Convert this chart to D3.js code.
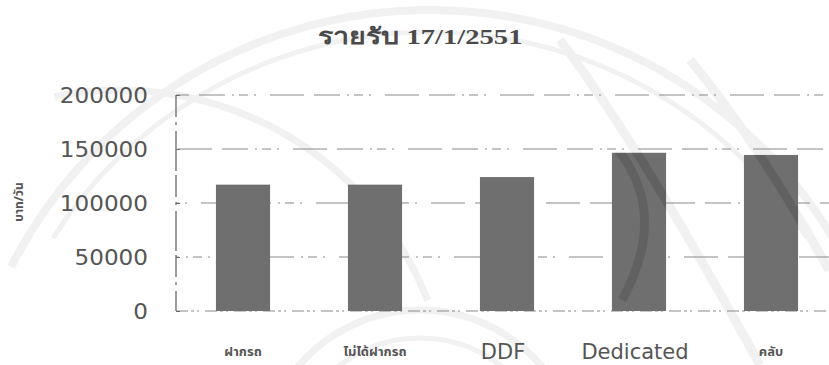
<!DOCTYPE html>
<html>
<head>
<meta charset="utf-8">
<script src="https://cdn.jsdelivr.net/npm/d3@7/dist/d3.min.js"></script>
<style>
  html, body { margin: 0; padding: 0; background: #fff; }
  svg { display: block; }
</style>
</head>
<body>
<svg id="chart" width="829" height="365"></svg>
<script>
// Daily income by service type
const categories = ["ฝากรถ", "ไม่ได้ฝากรถ", "DDF", "Dedicated", "คลับ"];
const income = [117000, 117000, 124000, 146500, 144500];
const yTicks = [0, 50000, 100000, 150000, 200000];
const chartTitle = "รายรับ 17/1/2551";
const yTitle = "บาท/วัน";

const svg = d3.select("#chart");
const W = 829, H = 365;

const x = d3.scaleBand()
  .domain(categories)
  .range([177, 837])
  .paddingInner(0.59)
  .paddingOuter(0.295);

const y = d3.scaleLinear()
  .domain([0, 200000])
  .range([311, 95]);

const ink = "#6f6f6f";
const isLatin = d => /[A-Za-z]/.test(d);

// Faint background seal pattern
const seal = svg.append("g").attr("fill", "none").attr("stroke", "#f1f1f1");
const rings = [
  { cx: 430, cy: 480, r: 470, a0: -1.1, a1: 1.1, w: 8 },
  { cx: 430, cy: 480, r: 448, a0: -1.0, a1: 1.0, w: 5 },
  { cx: 120, cy: 420, r: 330, a0: -0.2, a1: 1.2, w: 7 },
  { cx: 420, cy: 470, r: 160, a0: -1.4, a1: 1.4, w: 7 },
  { cx: 420, cy: 470, r: 132, a0: -1.3, a1: 1.3, w: 5 }
];
rings.forEach(d => {
  seal.append("path")
    .attr("d", d3.arc()({ innerRadius: d.r, outerRadius: d.r, startAngle: d.a0, endAngle: d.a1 }))
    .attr("transform", `translate(${d.cx},${d.cy})`)
    .attr("stroke-width", d.w);
});
const bandPaths = [
  "M560,40 C620,120 680,220 760,365",
  "M690,60 C740,120 790,200 829,270"
];
bandPaths.forEach(p => seal.append("path").attr("d", p).attr("stroke-width", 9));

// Gridlines (light, broken dash-dot)
const grid = svg.append("g")
  .attr("stroke", "#8a8a8a")
  .attr("stroke-width", 1.1);
yTicks.forEach((t, i) => {
  grid.append("line")
    .attr("x1", 176).attr("x2", W)
    .attr("y1", y(t)).attr("y2", y(t))
    .attr("stroke-dasharray", i === 0 ? "12,3,3,3,2,6" : "26,7,2,5,9,6,2,14,34,10")
    .attr("stroke-dashoffset", i * 23);
});

// Vertical axis line
svg.append("line")
  .attr("x1", 176).attr("x2", 176)
  .attr("y1", y(200000)).attr("y2", y(0))
  .attr("stroke", "#6a6a6a")
  .attr("stroke-width", 1.3)
  .attr("stroke-dasharray", "22,5,3,6,40,4");

// Y tick labels
const yAxis = d3.axisLeft(y).tickValues(yTicks).tickSize(4).tickFormat(d3.format("d"));
const gy = svg.append("g").attr("transform", "translate(180,0)").call(yAxis);
gy.select(".domain").remove();
gy.selectAll(".tick line").attr("stroke", "#6a6a6a").attr("x2", -4);
gy.selectAll(".tick text")
  .attr("x", 0)
  .attr("dy", "0.36em")
  .attr("fill", "#555")
  .attr("font-family", "DejaVu Sans, Verdana, sans-serif")
  .attr("font-size", 22)
  .attr("text-anchor", "end")
  .attr("transform", "translate(-32,0) scale(1.05,1)");

// Bars
const barRect = (sel) => sel
  .attr("x", (d, i) => x(categories[i]))
  .attr("width", x.bandwidth())
  .attr("y", d => y(d))
  .attr("height", d => y(0) - y(d));

svg.append("g")
  .selectAll("rect")
  .data(income)
  .join("rect")
  .call(barRect)
  .attr("fill", ink);

// Seal pattern shows through the bars as darker bands
svg.append("clipPath").attr("id", "bar-clip")
  .selectAll("rect")
  .data(income)
  .join("rect")
  .call(barRect);

const sealTop = svg.append("g")
  .attr("clip-path", "url(#bar-clip)")
  .attr("fill", "none")
  .attr("stroke", "#000")
  .attr("stroke-opacity", 0.12);
bandPaths.concat(["M618,150 C650,190 655,240 622,300"])
  .forEach(p => sealTop.append("path").attr("d", p).attr("stroke-width", 9));

// Category labels
const gx = svg.append("g").attr("transform", `translate(0,${y(0)})`)
  .call(d3.axisBottom(x).tickSize(0));
gx.select(".domain").remove();
gx.selectAll(".tick text")
  .attr("fill", "#555")
  .attr("y", d => isLatin(d) ? 33 : 36)
  .attr("font-family", d => isLatin(d) ? "DejaVu Sans, Verdana, sans-serif" : "Noto Sans Thai, Noto Sans, sans-serif")
  .attr("font-weight", d => isLatin(d) ? "normal" : "bold")
  .attr("font-size", d => isLatin(d) ? 21 : 13)
  .attr("transform", d => isLatin(d) ? "translate(-4,0)" : null);

// Chart title
svg.append("text")
  .attr("x", 0).attr("y", 0)
  .attr("transform", "translate(420,44) scale(1.3,1)")
  .attr("text-anchor", "middle")
  .attr("font-family", "Liberation Serif, Times New Roman, serif")
  .attr("font-weight", "bold")
  .attr("font-size", 22)
  .attr("fill", "#4a4a4a")
  .text(chartTitle);

// Y axis title
svg.append("text")
  .attr("transform", "translate(23,202) rotate(-90)")
  .attr("text-anchor", "middle")
  .attr("font-family", "Noto Sans Thai, Noto Sans, sans-serif")
  .attr("font-weight", "bold")
  .attr("font-size", 12)
  .attr("fill", "#555")
  .text(yTitle);
</script>
</body>
</html>
